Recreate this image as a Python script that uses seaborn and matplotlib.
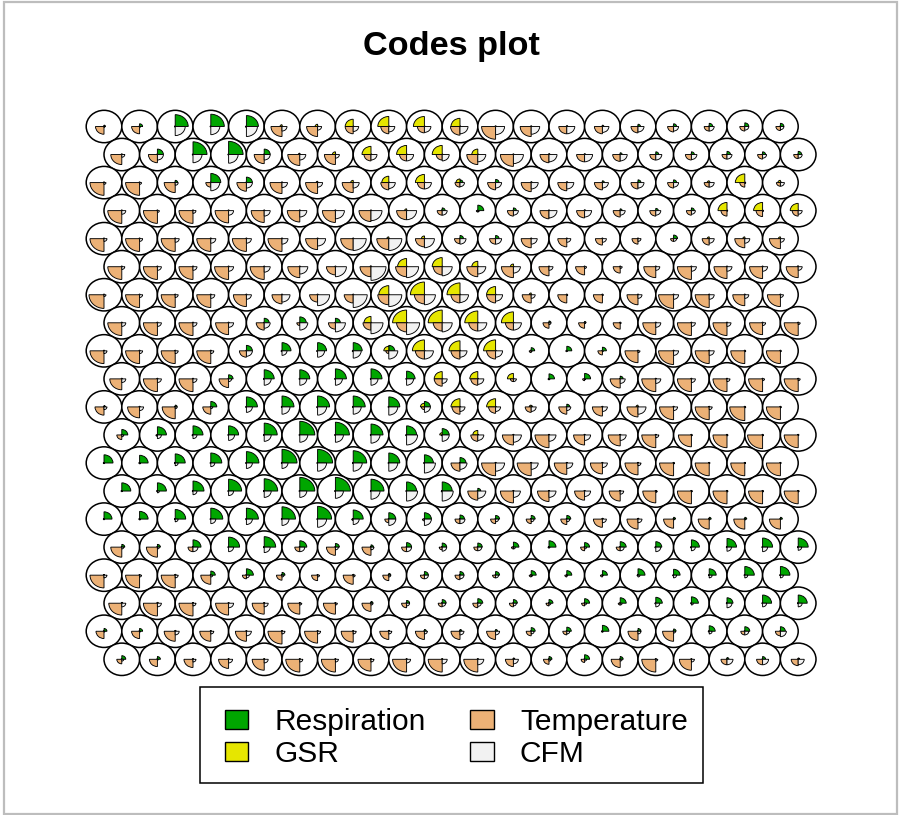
import numpy as np
import matplotlib
matplotlib.use("Agg")
import matplotlib.pyplot as plt
from matplotlib.patches import Ellipse, Wedge, Rectangle, Patch
import seaborn as sns

labels = ["Respiration", "GSR", "Temperature", "CFM"]

# code magnitudes per map unit, top row first
respiration = [
    [1.5,3,13,13.5,12,.5,.5,0,0,0,0,0,.5,1,1.5,2.5,3,3.5,4,3.5],
    [.5,6,14,14.5,6,.5,.5,0,0,0,0,.5,1,1,2,3,3,3.5,3,3.5],
    [.5,.5,2.5,10,6,0,0,.5,0,0,3,3.5,1,1,2,3,3,1,0,1],
    [.3,0,0,0,0,0,0,0,0,3,6,3,0,1,2,2.5,3,0,0,0],
    [0,0,0,0,0,0,0,0,0,0,3.5,3.5,.5,0,0,0,4,0,0,0],
    [0,0,0,0,0,0,0,0,0,0,0,0,.3,0,0,0,0,0,0,0],
    [0,0,0,0,0,0,0,0,0,0,0,0,0,0,0,0,0,0,0,0],
    [0,0,0,0,5,6.5,5,0,0,0,0,0,2,1.5,.5,0,0,0,0,0],
    [0,0,0,0,6,9,9,9,6,0,0,0,3.5,5,4,0,0,0,0,0],
    [0,0,0,4.5,10,10,11,11,8.5,0,0,0,5.5,6,3,0,0,0,0,0],
    [1.5,.5,2,6,11,12,12,12,11,6,0,0,1.5,3,.5,0,0,0,0,0],
    [6,9,10,10,13,15,14,12,10,7,0,0,0,0,0,0,0,0,0,0],
    [9,8.5,10,11,12.5,15,15,13.5,11,9,6,0,0,0,0,0,0,0,0,0],
    [9,9,11,13,13.5,15,15,13,10,10,3,0,0,0,0,0,0,0,0,0],
    [8,8.5,10.5,12,12,13.5,14,10,7,7,4.5,4,4,4,1,1,2,2,2,2],
    [3,3,8,11,11.5,7,4,2.5,5,4.5,4.5,5.5,7,5,6,6,8,9.5,10,10],
    [0,0,1,4.5,7,3,.5,1,2,4,4,4,5,5,5,7,6.5,7,9.5,9.5],
    [1,1,0,0,0,0,0,2,3,4,5,4,4,5,6,6.5,7,6,9,9],
    [3,3,1,0,0,0,0,0,1,2,2,2,4,4.5,6.5,3,2.5,6,5,5],
    [4,3,0,0,0,0,0,0,0,0,0,1.5,3,5,3,0,0,2,3,1.5],
]
gsr = [
    [0,0,0,0,0,2,2.5,8,11,11,9,0,.5,.5,0,0,0,0,0,0],
    [0,0,0,0,0,1.5,3,9,10,10,6,0,0,0,0,0,0,0,0,0],
    [0,0,0,0,0,.5,1.5,2.5,7,9,4,.5,0,0,0,0,0,2,9.5,2.5],
    [0,0,0,0,0,0,0,0,2,1,0,0,0,0,0,0,0,9,9,8],
    [0,0,0,0,0,0,0,0,2,3,0,0,0,0,0,0,0,2,2,2],
    [0,0,0,0,0,0,0,1,9,10,6,3,0,0,0,0,0,0,0,1],
    [0,0,0,0,0,0,0,0,10,14,13,9,2,0,0,0,0,0,0,0],
    [0,0,0,0,0,0,0,7,14,14,13,12,0,0,0,0,0,0,0,0],
    [0,0,0,0,0,0,0,0,5,12,11,12,1,0,0,0,0,0,0,0],
    [0,0,0,0,0,0,0,0,0,8,8,6,0,0,0,0,0,0,0,0],
    [0,0,0,0,0,0,0,0,0,4,9,9,2,0,0,2,0,0,0,0],
    [0,0,0,0,0,0,0,0,0,2.5,5,0,0,0,0,0,0,0,0,0],
    [0,0,0,0,0,0,0,0,0,0,0,0,0,0,0,0,0,0,0,0],
    [0,0,0,0,0,0,0,0,0,0,0,0,0,0,0,0,0,0,0,0],
    [0,0,0,0,0,0,0,0,0,0,0,0,0,0,0,0,0,0,0,0],
    [0,0,0,0,0,0,0,0,0,0,0,0,0,0,0,0,0,0,0,0],
    [0,0,0,0,0,0,0,0,0,0,0,0,0,0,0,0,0,0,0,0],
    [0,0,0,0,0,0,0,0,0,0,0,0,0,0,0,0,0,0,0,0],
    [0,0,0,0,0,0,0,0,0,0,0,0,0,0,0,0,0,0,0,0],
    [0,0,0,0,0,0,0,0,0,0,0,0,0,0,0,0,0,0,0,0],
]
temperature = [
    [8.5,8,0,.5,1,11,11,8,8,7,9.5,14,11,8,8,7,6,5,5,4.5],
    [11,9,0,.5,10,12,11,7,7,6,11,13,9,8,7.5,6,6,5,5,4.5],
    [14,14,11,5,9.5,12,12,11,8,7,5,8,10,9,8,7,6,5,5,4],
    [14,14,14,13.5,13,12.5,13,12,10,5,1.5,6,9,8,7,6,5,6,6.5,6],
    [14,14,14,14,14,14,12,12.5,12,9,5.5,6,10,9,7,6,3,7,10,11],
    [14,14,14,14,14,12,9,11,11,9,11,12,10,9,7,12,14,13,13,12],
    [15,14,14,14,13,10,8,9,11,10,9,9,9,9,9,11,15,14,12,13],
    [14,14,14,13,8,3,7,8,10,9,9,8,6,6,7,13,14,14,13,14],
    [14,14,14,14,7,1,1,1,3,9,9,9,2,1,4.5,13,15,14,14,14],
    [12,14,14,9.5,0,0,0,.5,.5,8,7,3,1,2,10,14,14,14,14,14],
    [9,12,13,8,0,.5,1,.5,.5,3,8,7,6,8,10,11,14,14,15,14],
    [5,1.5,1,0,.5,.5,0,.5,1,1,7,11,14,11,12,14,13,14,15,14],
    [0,.5,.5,.5,0,0,0,0,0,0,9,14,14,12.5,12,13,14,14,14,14],
    [.5,.5,0,0,0,0,0,0,0,1,10,13,11.5,10,11,13,14,14,14,14],
    [0,0,0,0,0,0,0,1.5,4,2,5,5,5,6,9,11,10,11,11,11],
    [11,11,5,0,0,5,9,9,5,3,4,2,1,4,4,1,1,.5,.3,0],
    [14,14,14,10,4,5.5,6,10,6,4,5,3,2,2,2,1,1,0,0,0],
    [13,14,14,13,12,12,12,9,5,4,5,4,3,3,2,1,.5,.5,.5,0],
    [8,8,11,11,11,14,13,12,9,9,9,9,5,4,1,10,11,1,4,5],
    [5,8,9,10,12,14,14,13,14,14,14,8,5.5,3.5,9,14,12,6,6,7],
]
cfm = [
    [1,1,10,9,11,5,4,5.5,6,6.5,8,9,8.5,8,6.5,6,5,5,4,3.5],
    [3,6,9,9.5,6,6,4,6,7,7,8,10,8,8,7,6,5.5,5,4,4],
    [2,2,3,9,6,5.5,5,6,6.5,7,4.5,6,7,7,6,6,5,5,1,4],
    [4,2,3,5,6,7,9,11,10,5,1.5,5,8,7,5,5,4,0,1,4],
    [3,3,4,5,5,6,8,13,13,10,6,6,6,4,4,3,3,5,5,4],
    [3,4,4,5,6,8,11,15,12,10,8,7,4,2,2,4,5,5,5,4],
    [2,3,3,4,5,8,12,14,13,11,8.5,7,4,1,1,4,5,5,4,3],
    [4,4,4,5,6,8,10,12,13,10,9,8,2,1,1,5,4,4,3,2],
    [3,3,3,3,6,5,7,8,9,9,7,7,1,.5,1,2,5,5,1,1],
    [4,4,4,3,7,7,7,7,7,5,6,3,1,1,5,5,4,3,2,2],
    [3,4,2,2,6,8,9,8,9,6,5,5,5,4,5,8,4,3,1,1],
    [2,4,4,6,7,8,8,9,11,7,6,8,7,6,6,3,1,1,1,.5],
    [0,1,3,4,6,6,9,9,9,11,7,9,7,6,5,3,1,.5,.5,.5],
    [0,2,4,5,7,7,8,9,11,11,8,7,7,6,3.5,1.5,1,1,1,1],
    [.5,1,3,5,6,7,9,6,7,7,5,3,3,3,4,4,1,1,1,.5],
    [2,2,5,5,6,5,3,3,5,4.5,4,2,1,2,4,5,4,4.5,5,3.5],
    [3,2,3,2,3,2,2,2,2,4,4,3,1.5,1,1,2,3,3,3,3],
    [4,4,3,5,4,2,2,2,3,3.5,3.5,3,2,2,2,4,2,5,4,4],
    [1,1,4,3,5,3,3,3,3,3,4,4,3,3,1,3,2,3,4,6],
    [2,1,3,4,4,3,3,3,4,5,6,5,2,2,2,2,3,6,6,6],
]

sns.set_style("white")
plt.rcParams['font.family'] = ['Liberation Sans', 'DejaVu Sans']
plt.rcParams['text.color'] = 'black'
colors = sns.color_palette(["#00A600", "#E6E600", "#ECB176", "#F2F2F2"])
codes = np.array([respiration, gsr, temperature, cfm])

W, H = 899, 815
sx, sy = 35.6, 32.38   # px per map unit
fig = plt.figure(figsize=(W / 100, H / 100), dpi=100)
ax = fig.add_axes([0, 0, 1, 1])
ax.set_xlim(-104 / sx, (W - 104) / sx)
ax.set_ylim((126.5 - H) / sy, 126.5 / sy)
ax.axis("off")

fig.add_artist(Rectangle((3.5 / W, 1 - 813.5 / H), 893.5 / W, 812 / H, transform=fig.transFigure,
                         fill=False, ec="#bdbdbd", lw=1.6))

scale = 0.5 / 17.8  # magnitude to map units
stub = 0.7
for row in range(20):
    for col in range(20):
        x = col + 0.5 * (row % 2)
        y = -row * np.sqrt(3) / 2
        ax.add_patch(Ellipse((x, y), 1, 1, fc="white", ec="black", lw=1.1))
        for k in range(4):
            r = max(codes[k, row, col], stub) * scale
            ax.add_patch(Wedge((x, y), r, 90 * k, 90 * (k + 1), fc=colors[k], ec="black", lw=0.65))

fig.text(451.5 / W, 1 - 46.5 / H, "Codes plot", ha="center", va="center", fontsize=24.7, fontweight="bold")

# box drawn apart from the legend since the padding is uneven
fig.add_artist(Rectangle((199.5 / W, 1 - 783 / H), 503.5 / W, 96 / H, transform=fig.transFigure,
                         fc="white", ec="black", lw=1.1))
handles = [Patch(fc=c, ec="black", lw=1.0) for c in colors]
fig.legend(handles, labels, ncol=2, loc="center", bbox_to_anchor=(456.5 / W, 1 - 738 / H),
           fontsize=21.5, frameon=False,
           handlelength=0.78, handleheight=0.58, handletextpad=0.88, columnspacing=1.48,
           labelspacing=0.12, borderpad=0.8)

fig.savefig("out.png", dpi=100)
